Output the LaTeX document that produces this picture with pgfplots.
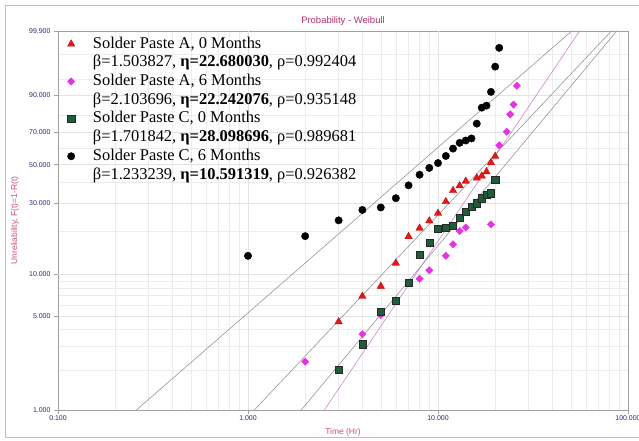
\documentclass[border=0pt]{standalone}
\usepackage{fontspec}
\setmainfont{Liberation Sans}
\newfontfamily\legfont{Liberation Serif}
\usepackage{pgfplots}
\pgfplotsset{compat=1.18}
\definecolor{titlecol}{RGB}{176,48,112}
\definecolor{labcol}{RGB}{200,80,120}
\definecolor{tickcol}{RGB}{40,40,120}
\definecolor{redm}{RGB}{228,24,24}
\definecolor{magm}{RGB}{228,50,228}
\definecolor{grnm}{RGB}{30,92,58}
\definecolor{fitgray}{RGB}{150,150,150}
\definecolor{fitpink}{RGB}{205,135,205}
\begin{document}
\begin{tikzpicture}
\begin{axis}[
  scale only axis, width=570bp, height=379bp,
  xmode=log, xmin=0.1, xmax=100,
  ymin=1, ymax=99.9,
  y coord trafo/.code={\pgfmathparse{ln(-ln(1-#1/100))}},
  y coord inv trafo/.code={\pgfmathparse{100*(1-exp(-exp(#1)))}},
  /pgf/number format/assume math mode=true,
  xtick={0.1,100}, xticklabels={0.100,100.000},
  extra x ticks={1,10}, extra x tick labels={1.000,10.000},
  extra x tick style={grid style={gray!55, line width=0.5bp}},
  minor xtick={0.2,0.3,0.4,0.5,0.6,0.7,0.8,0.9,2,3,4,5,6,7,8,9,20,30,40,50,60,70,80,90},
  ytick={1,5,30,50,70,90,99.9},
  yticklabels={1.000,5.000,30.000,50.000,70.000,90.000,99.900},
  extra y ticks={10}, extra y tick labels={10.000},
  extra y tick style={grid style={red!30, line width=0.5bp}},
  minor ytick={2,3,4,6,7,8,9,20,40,60,80,95,99},
  grid=both,
  major grid style={gray!22, line width=0.4bp},
  minor grid style={gray!15, line width=0.4bp},
  axis line style={gray!75, line width=0.6bp},
  tick style={gray!75, line width=0.5bp},
  tick align=outside, tick pos=left,
  major tick length=4bp, minor tick length=0pt,
  xticklabel style={font=\fontsize{7}{8}\selectfont, text=tickcol, yshift=2bp},
  yticklabel style={font=\fontsize{7}{8}\selectfont, text=tickcol},
  title={Probability - Weibull},
  title style={font=\fontsize{9.5}{11}\selectfont, text=titlecol, at={(axis description cs:0.5,1)}, anchor=base, yshift=2bp},
  xlabel={Time (Hr)},
  xlabel style={font=\fontsize{8.5}{10}\selectfont, text=labcol, at={(axis description cs:0.5,-0.058)}, anchor=center},
  ylabel={Unreliability, F(t)=1-R(t)},
  ylabel style={font=\fontsize{8.5}{10}\selectfont, text=labcol, at={(axis description cs:-0.0754,0.5)}, anchor=center},
  legend cell align=left,
  legend style={draw=none, fill=none, at={(axis description cs:0,1)}, anchor=north west, xshift=1.5bp, yshift=-1.5bp,
    font=\legfont\fontsize{16.5}{18.7}\selectfont, row sep=0pt, column sep=16bp,
    nodes={inner ysep=1.45bp, text height=12bp, text depth=3.8bp}},
]
% fitted Weibull lines (endpoints at F=1% and F=99.9%)
\addplot[fitgray, line width=0.6bp, forget plot] coordinates {(0.25409,1) (50.76,99.9)};
\addplot[fitgray, line width=0.6bp, forget plot] coordinates {(1.0645,1) (81.99,99.9)};
\addplot[fitpink, line width=0.6bp, forget plot] coordinates {(2.4975,1) (55.73,99.9)};
\addplot[fitgray, line width=0.6bp, forget plot] coordinates {(1.8826,1) (87.47,99.9)};

\addplot[only marks, mark=triangle*, mark size=4.3bp, draw=red!75!black, fill=redm, line width=0.3bp] coordinates {
(3,4.57) (4,6.99) (5,8.25) (6,12.0) (7,18.3) (8,20.8) (9,23.2) (10,26.0) (11,30.8) (12,35.9)
(13,38.3) (14,40.7) (16,42.4) (17,43.5) (18,45.9) (19,51.2) (20,55.1)};
\addlegendentry{Solder Paste A, 0 Months}
\addlegendimage{empty legend}
\addlegendentry{β=1.503827, \textbf{η=22.680030}, ρ=0.992404}

\addplot[only marks, mark=square*, mark options={rotate=45}, mark size=2.6bp, draw=magm, fill=magm] coordinates {
(2,2.33) (4,3.71) (5,5.12) (6,6.50) (8,9.32) (9,10.7) (11,13.5) (12,16.2) (13,19.9) (14,21.0)
(19,22.0) (21,62.0) (23,70.5) (24,80.7) (25,85.7) (26,93.2)};
\addlegendentry{Solder Paste A, 6 Months}
\addlegendimage{empty legend}
\addlegendentry{β=2.103696, \textbf{η=22.242076}, ρ=0.935148}

\addplot[only marks, mark=square*, mark size=3.6bp, draw=black!85, fill=grnm, line width=0.4bp] coordinates {
(3,2.04) (4,3.13) (5,5.44) (6,6.50) (7,8.73) (8,13.8) (9,16.7) (10,20.5) (11,21.0) (12,21.5)
(13,24.4) (14,26.6) (15,28.6) (16,30.1) (17,32.3) (18,33.8) (19,34.6) (20,41.6)};
\addlegendentry{Solder Paste C, 0 Months}
\addlegendimage{empty legend}
\addlegendentry{β=1.701842, \textbf{η=28.098696}, ρ=0.989681}

\addplot[only marks, mark=*, mark size=3.7bp, draw=black, fill=black] coordinates {
(1,13.5) (2,18.4) (3,23.4) (4,27.3) (5,28.3) (6,32.3) (7,38.5) (8,44.2) (9,48.1) (10,51.0)
(11,55.3) (12,59.9) (13,63.5) (14,65.0) (15,66.3) (16,75.4) (17,84.2) (18,85.2) (19,91.1) (20,97.6) (21,99.42)};
\addlegendentry{Solder Paste C, 6 Months}
\addlegendimage{empty legend}
\addlegendentry{β=1.233239, \textbf{η=10.591319}, ρ=0.926382}
\end{axis}
\draw[gray!50, line width=0.8bp] (-53bp,-27bp) rectangle (600bp,405bp);
\pgfresetboundingbox
\path[use as bounding box] (-58bp,-31bp) rectangle (581bp,410bp);
\end{tikzpicture}
\end{document}
